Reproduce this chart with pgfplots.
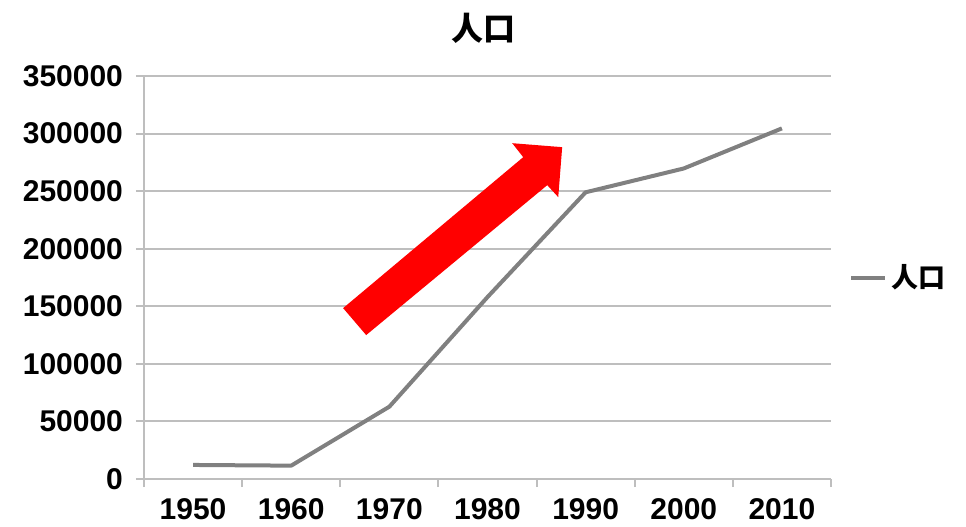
\documentclass[border=0pt]{standalone}
\usepackage{fontspec}
\setmainfont{Liberation Sans}
\newfontfamily\cjk{Noto Sans CJK SC}
\usepackage{pgfplots}
\pgfplotsset{compat=1.18}
\definecolor{linegray}{RGB}{128,128,128}
\definecolor{gridgray}{RGB}{190,190,190}
\begin{document}
\begin{tikzpicture}
\useasboundingbox (-72pt,-23.5pt) rectangle (411pt,239.5pt);
\begin{axis}[
  at={(0,0)}, anchor=south west,
  scale only axis, width=343.5pt, height=201.5pt,
  xmin=-0.5, xmax=6.5, ymin=0, ymax=350000,
  axis x line*=bottom, axis y line*=left,
  axis line style={gridgray, line width=1pt},
  xtick={0,1,2,3,4,5,6},
  xticklabels={1950,1960,1970,1980,1990,2000,2010},
  major x tick style={draw=none},
  minor xtick={-0.5,0.5,1.5,2.5,3.5,4.5,5.5,6.5},
  scaled y ticks=false,
  ytick={0,50000,100000,150000,200000,250000,300000,350000},
  yticklabels={0,50000,100000,150000,200000,250000,300000,350000},
  tick align=outside,
  major tick length=4pt, minor tick length=4pt,
  tick style={gridgray, line width=1pt},
  ymajorgrids, grid style={gridgray, line width=1pt},
  ticklabel style={font=\bfseries\fontsize{15}{17}\selectfont, text=black},
  xticklabel style={yshift=-2pt},
  yticklabel style={xshift=-3pt},
  legend style={at={(1,0.5)}, anchor=west, draw=none, fill=none, xshift=6pt,
    font=\cjk\bfseries\fontsize{13.5}{15}\selectfont},
  legend image code/.code={\draw[#1] (0pt,0pt) -- (17pt,0pt);},
]
\addplot[linegray, line width=2pt, line join=round] coordinates {
  (0,12200) (1,11600) (2,62800) (3,158000) (4,249000) (5,269700) (6,304500)};
\addlegendentry{人口}
\fill[red] (axis cs:1.529,148400) -- (axis cs:3.364,279500) -- (axis cs:3.252,291650)
  -- (axis cs:3.761,288200) -- (axis cs:3.721,244800) -- (axis cs:3.609,255200)
  -- (axis cs:1.764,125000) -- cycle;
\end{axis}
\node[font=\cjk\bfseries\fontsize{16}{18}\selectfont] at (169.5pt,225.5pt) {人口};
\end{tikzpicture}
\end{document}
